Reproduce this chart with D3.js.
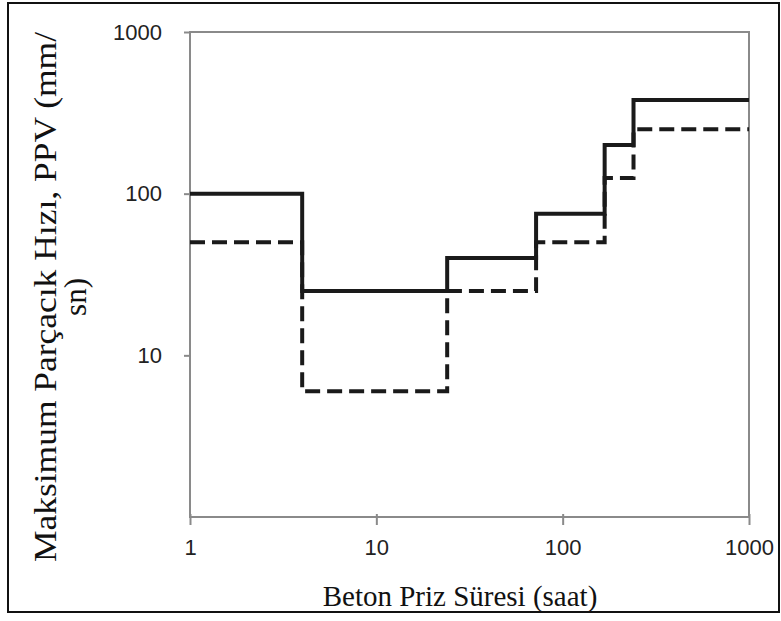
<!DOCTYPE html>
<html>
  <head>
    <meta charset="utf-8">
    <title>PPV</title>
    <script src="https://cdn.jsdelivr.net/npm/d3@7"></script>
    <style>
      body { margin: 0; background: #fff; }
      .tick text { font-family: "Liberation Sans", Arial, sans-serif; font-size: 22px; fill: #222; }
      .title { font-family: "Liberation Serif", "Times New Roman", serif; font-size: 29px; fill: #111; }
    </style>
  </head>
  <body>
    <div id="chart"></div>
    <script>
      // step edges (hours) and PPV levels
      var hours = [1, 4, 24, 72, 168, 240, 1000];
      var solidPPV = [100, 25, 40, 75, 200, 380];
      var dashedPPV = [50, 6, 25, 50, 125, 250];
      var xTicks = [1, 10, 100, 1000];
      var yTicks = [10, 100, 1000];

      var W = 781, H = 621;
      var margin = {top: 32, right: 32, bottom: 104, left: 190};

      var svg = d3.select('#chart').append('svg')
        .attr('width', W)
        .attr('height', H);

      // outer frame
      svg.append('rect')
        .attr('x', 8).attr('y', 3)
        .attr('width', 771).attr('height', 609)
        .attr('fill', 'none')
        .attr('stroke', '#111')
        .attr('stroke-width', 2);

      var x = d3.scaleLog().domain([1, 1000]).range([margin.left, W - margin.right]);
      var y = d3.scaleLog().domain([1, 1000]).range([H - margin.bottom, margin.top]);

      // plot box
      svg.append('rect')
        .attr('x', x(1)).attr('y', y(1000))
        .attr('width', x(1000) - x(1)).attr('height', y(1) - y(1000))
        .attr('fill', 'none')
        .attr('stroke', '#8a8a8a')
        .attr('stroke-width', 2);

      var xAxis = svg.append('g')
        .attr('transform', 'translate(0,' + y(1) + ')')
        .call(d3.axisBottom(x).tickValues(xTicks).tickFormat(d3.format('d')).tickSize(8).tickPadding(14));
      var yAxis = svg.append('g')
        .attr('transform', 'translate(' + x(1) + ',0)')
        .call(d3.axisLeft(y).tickValues(yTicks).tickFormat(d3.format('d')).tickSize(6).tickPadding(22));

      [xAxis, yAxis].forEach(function(a) {
        a.select('.domain').remove();
        a.selectAll('.tick line').attr('stroke', '#8a8a8a').attr('stroke-width', 2);
      });
      xAxis.selectAll('.tick line').attr('y1', -3);

      // step lines
      var step = d3.line()
        .x(function(d) { return x(d[0]); })
        .y(function(d) { return y(d[1]); })
        .curve(d3.curveStepAfter);

      function pts(vals) {
        var p = vals.map(function(v, i) { return [hours[i], v]; });
        p.push([hours[hours.length - 1], vals[vals.length - 1]]);
        return p;
      }

      svg.append('path')
        .datum(pts(dashedPPV))
        .attr('d', step)
        .attr('fill', 'none')
        .attr('stroke', '#1a1a1a')
        .attr('stroke-width', 4)
        .attr('stroke-dasharray', '15,7');

      svg.append('path')
        .datum(pts(solidPPV))
        .attr('d', step)
        .attr('fill', 'none')
        .attr('stroke', '#1a1a1a')
        .attr('stroke-width', 4);

      // titles
      svg.append('text')
        .attr('class', 'title')
        .attr('x', 460).attr('y', 606)
        .attr('text-anchor', 'middle')
        .text('Beton Priz Süresi (saat)');

      var yt = svg.append('text')
        .attr('class', 'title')
        .style('font-size', '31px')
        .attr('transform', 'translate(56,297) rotate(-90)')
        .attr('text-anchor', 'middle');
      yt.append('tspan').attr('x', 0).attr('dy', 0)
        .attr('textLength', 530).attr('lengthAdjust', 'spacingAndGlyphs')
        .text('Maksimum Parçacık Hızı, PPV (mm/');
      yt.append('tspan').attr('x', 0).attr('dy', 30).text('sn)');
    </script>
  </body>
</html>
